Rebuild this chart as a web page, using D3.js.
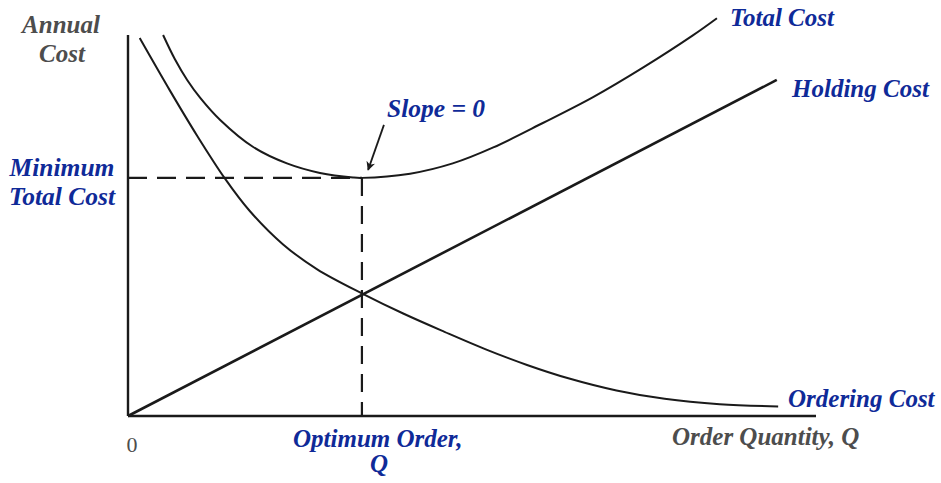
<!DOCTYPE html>
<html>
<head>
<meta charset="utf-8">
<script src="https://cdn.jsdelivr.net/npm/d3@7"></script>
<style>
  html, body { margin: 0; padding: 0; background: #fff; }
  svg { display: block; }
  text { font-family: "Liberation Serif", "Times New Roman", serif; font-weight: bold; font-style: italic; }
</style>
</head>
<body>
<svg id="chart" width="941" height="483"></svg>
<script>
// ---- Data (abstract units: Q 0..100, cost 0..100) ----
const orderingQ    = [1.7, 6.1, 10.0, 14.1, 17.7, 22.5, 27.5, 34.2, 40.0, 46.0, 52.0, 58.0, 64.0, 71.0, 78.0, 86.0, 94.5];
const orderingCost = [99.2, 85.4, 73.7, 62.3, 53.8, 45.1, 38.5, 32.0, 26.9, 22.1, 17.5, 13.4, 9.9, 6.7, 4.5, 3.1, 2.5];

const totalQ    = [5.1, 6.8, 8.6, 10.5, 13.4, 18.2, 23.1, 27.9, 32.7, 34.0, 41.0, 47.2, 53.1, 60.3, 67.6, 74.9, 82.1, 85.6];
const totalCost = [100, 93.7, 88.2, 83.5, 77.7, 70.6, 66.3, 63.8, 62.6, 62.5, 63.6, 66.3, 70.5, 76.9, 83.7, 91.5, 99.9, 104.4];

const holdingQ    = [0, 94.3];
const holdingCost = [0, 88.2];

const optimumQ = 34.0;
const minTotalCost = 62.5;

const arrowQ    = [37.2, 34.9];
const arrowCost = [76.4, 64.6];

const seriesLabels = ["Total Cost", "Holding Cost", "Ordering Cost"];
const axisLabels = { y: ["Annual", "Cost"], x: "Order Quantity, Q", origin: "0" };
const minLabel = ["Minimum", "Total Cost"];
const optLabel = ["Optimum Order,", "Q"];
const slopeLabel = "Slope = 0";

// ---- Layout ----
const svg = d3.select("#chart");
const x = d3.scaleLinear().domain([0, 100]).range([128, 816]);
const y = d3.scaleLinear().domain([0, 100]).range([416, 35]);
const blue = "#0f2a98";
const gray = "#4d4d4d";
const ink = "#1a1a1a";

// arrow marker
svg.append("defs").append("marker")
  .attr("id", "arrow").attr("viewBox", "0 0 10 10")
  .attr("refX", 9).attr("refY", 5)
  .attr("markerWidth", 10).attr("markerHeight", 9)
  .attr("markerUnits", "userSpaceOnUse")
  .attr("orient", "auto")
  .append("path").attr("d", "M0,0 L10,5 L0,10 L3,5 z").attr("fill", ink);

// dashed guides
svg.append("line")
  .attr("x1", x(0)).attr("y1", y(minTotalCost))
  .attr("x2", x(optimumQ)).attr("y2", y(minTotalCost))
  .attr("stroke", ink).attr("stroke-width", 2.2).attr("stroke-dasharray", "19,10");
svg.append("line")
  .attr("x1", x(optimumQ)).attr("y1", y(minTotalCost))
  .attr("x2", x(optimumQ)).attr("y2", y(0))
  .attr("stroke", ink).attr("stroke-width", 2.2).attr("stroke-dasharray", "18,10");

// axes
svg.append("line")
  .attr("x1", x(0)).attr("y1", y(0)).attr("x2", x(0)).attr("y2", y(100))
  .attr("stroke", ink).attr("stroke-width", 2.4);
svg.append("line")
  .attr("x1", x(0)).attr("y1", y(0)).attr("x2", x(100)).attr("y2", y(0))
  .attr("stroke", ink).attr("stroke-width", 2.6);

const line = d3.line().x(d => x(d[0])).y(d => y(d[1])).curve(d3.curveCatmullRom.alpha(0.5));

svg.append("path").datum(d3.zip(orderingQ, orderingCost))
  .attr("d", line).attr("fill", "none").attr("stroke", ink).attr("stroke-width", 2);
svg.append("path").datum(d3.zip(totalQ, totalCost))
  .attr("d", line).attr("fill", "none").attr("stroke", ink).attr("stroke-width", 2);
svg.append("path").datum(d3.zip(holdingQ, holdingCost))
  .attr("d", d3.line().x(d => x(d[0])).y(d => y(d[1])))
  .attr("fill", "none").attr("stroke", ink).attr("stroke-width", 2.6);

// arrow
svg.append("line")
  .attr("x1", x(arrowQ[0])).attr("y1", y(arrowCost[0]))
  .attr("x2", x(arrowQ[1])).attr("y2", y(arrowCost[1]))
  .attr("stroke", ink).attr("stroke-width", 1.8).attr("marker-end", "url(#arrow)");

// texts
function txt(t, px, py, opts) {
  const o = Object.assign({ size: 25, fill: blue, anchor: "start" }, opts || {});
  const el = svg.append("text").attr("x", px).attr("y", py)
    .attr("font-size", o.size).attr("fill", o.fill).attr("text-anchor", o.anchor).text(t);
  if (o.regular) el.style("font-weight", "normal").style("font-style", "normal");
  return el;
}
txt(axisLabels.y[0], 61, 33, { fill: gray, anchor: "middle" });
txt(axisLabels.y[1], 62, 62, { fill: gray, anchor: "middle" });
txt(minLabel[0], 62, 176, { anchor: "middle", size: 25.5 });
txt(minLabel[1], 62, 205, { anchor: "middle", size: 25.5 });
txt(slopeLabel, 387, 117, { size: 25.5 });
txt(seriesLabels[0], 730, 26);
txt(seriesLabels[1], 792, 97);
txt(seriesLabels[2], 788, 407);
txt(optLabel[0], 293, 447);
txt(optLabel[1], 379, 472, { anchor: "middle" });
txt(axisLabels.x, 672, 445, { fill: gray });
txt(axisLabels.origin, 132, 452, { fill: gray, anchor: "middle", size: 22, regular: true });
</script>
</body>
</html>
